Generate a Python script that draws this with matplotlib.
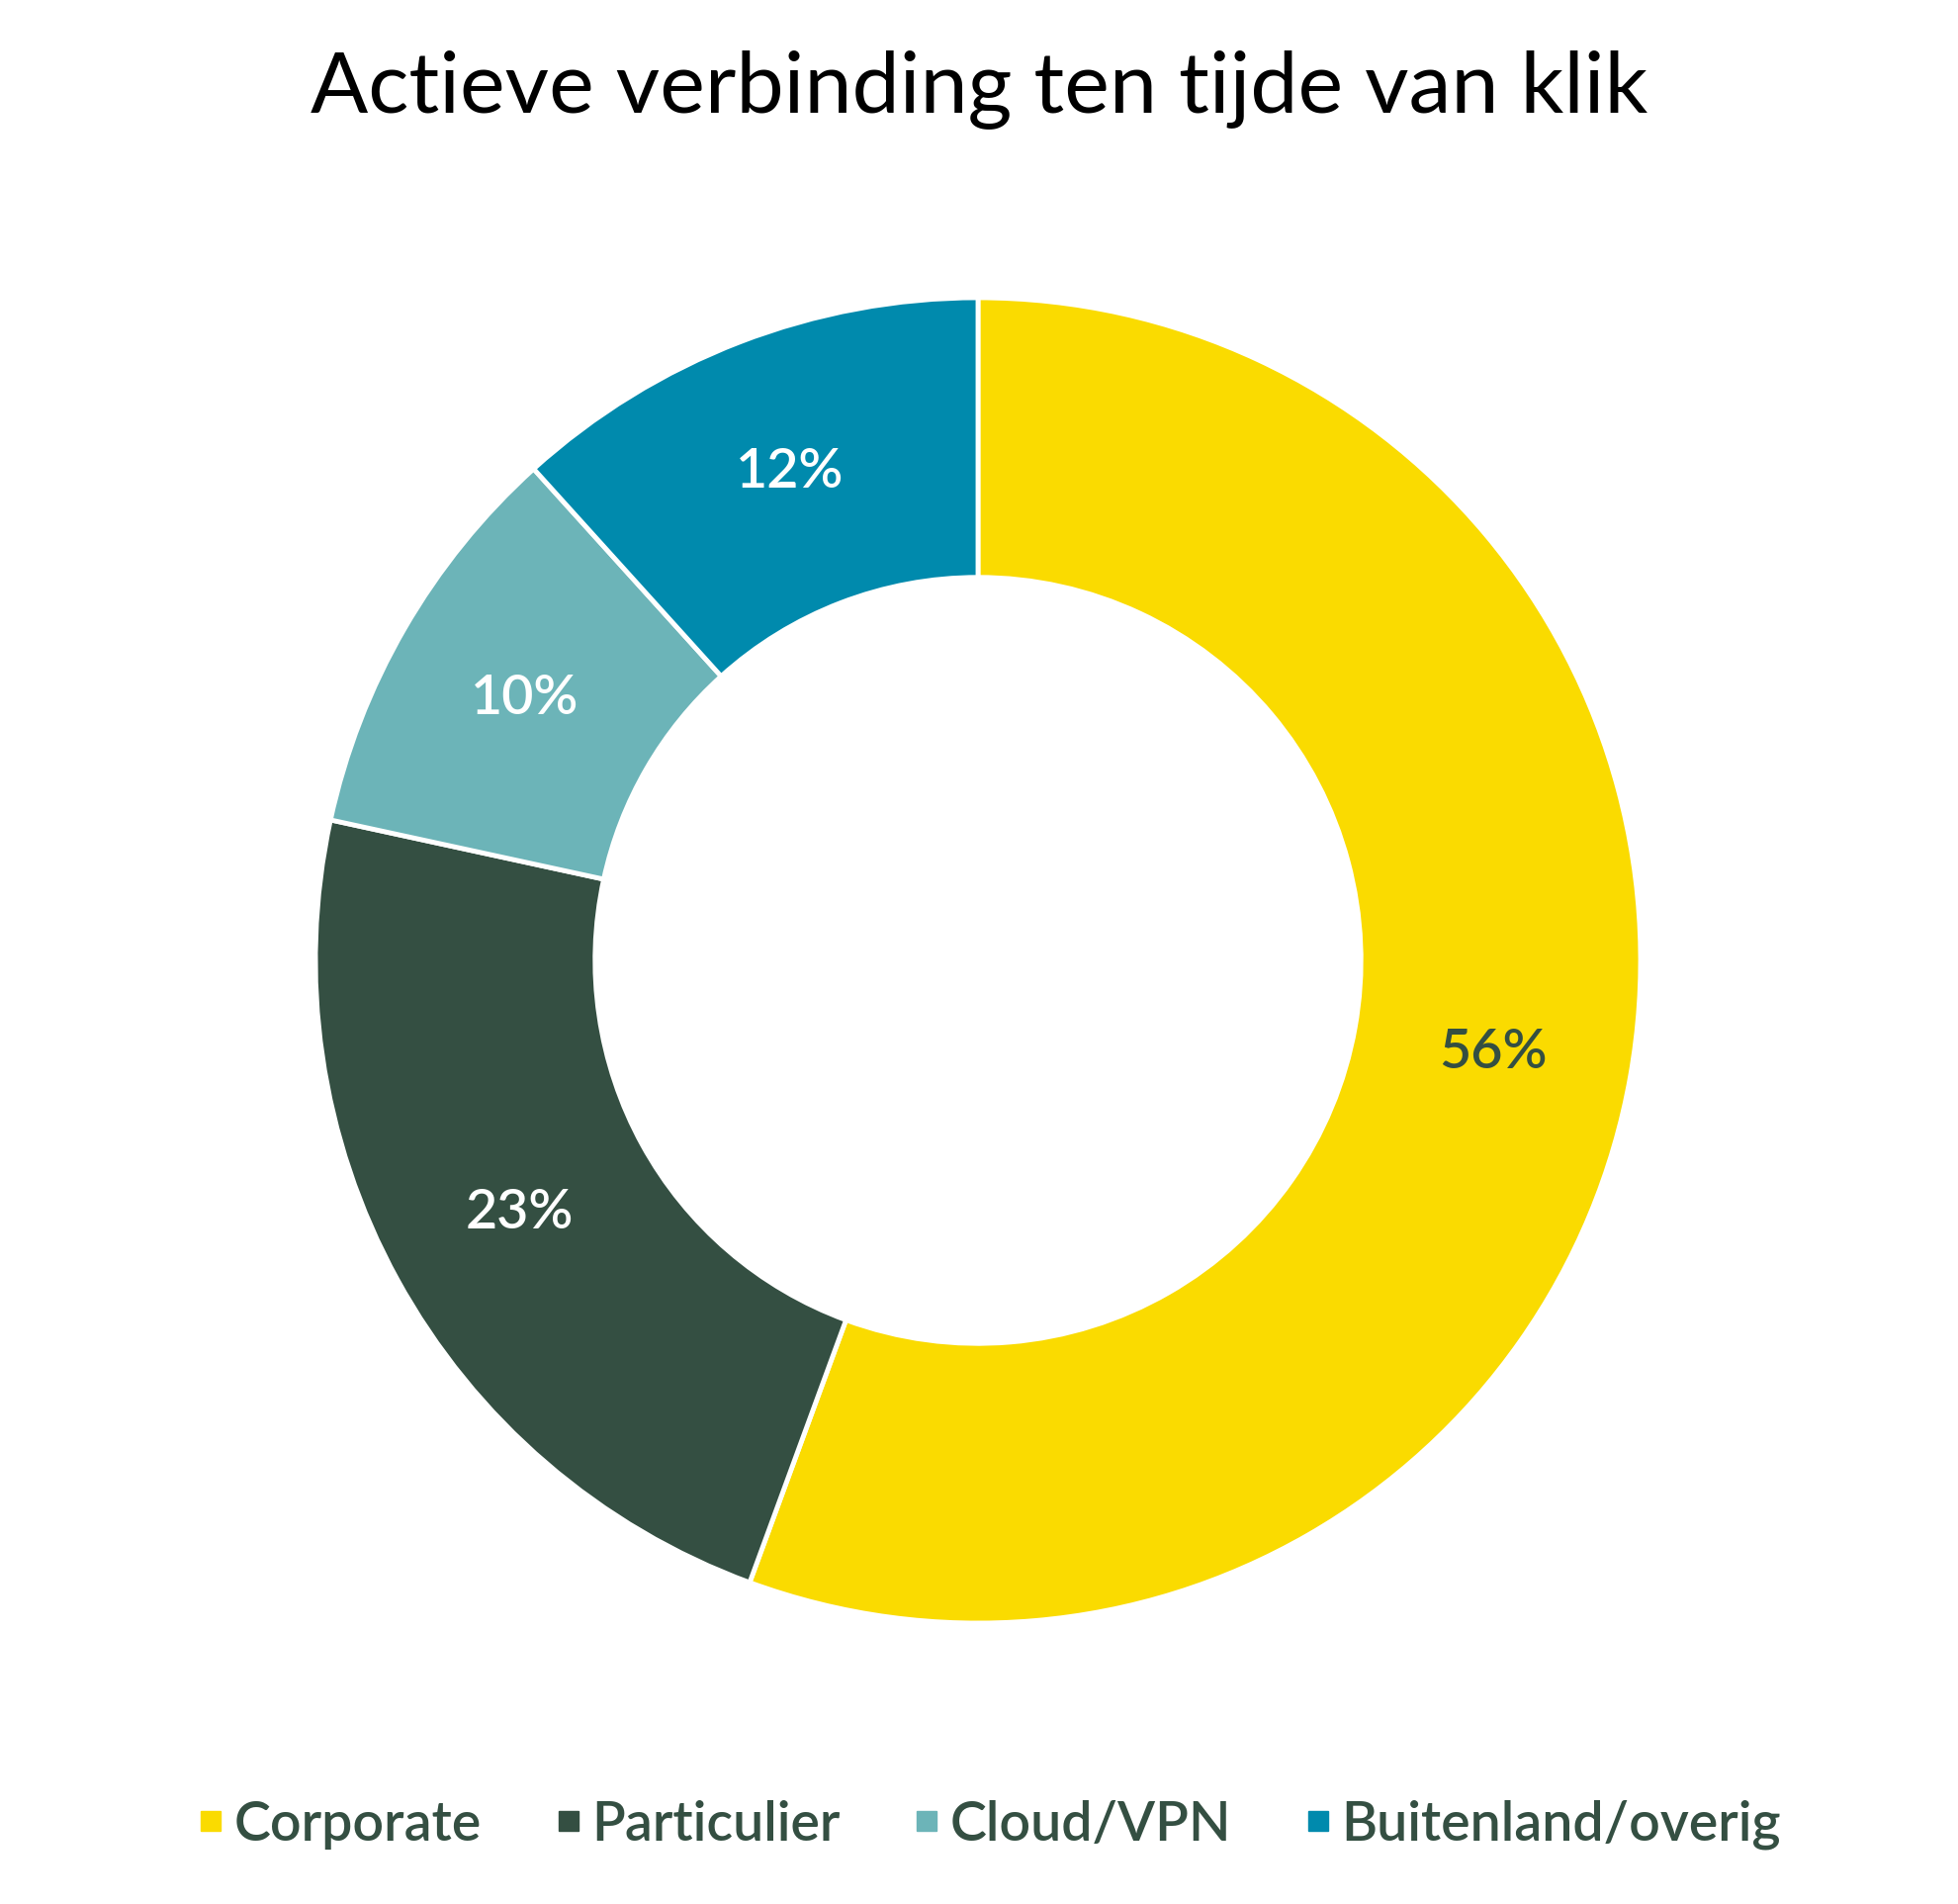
import matplotlib.pyplot as plt
from matplotlib.lines import Line2D

plt.rcParams['font.family'] = ['Lato', 'DejaVu Sans']

# data
labels = ['Corporate', 'Particulier', 'Cloud/VPN', 'Buitenland/overig']
values = [55.6, 22.8, 9.9, 11.7]
colors = ['#FADB00', '#344F42', '#6CB4B8', '#008AAD']
label_colors = ['#344F42', 'white', 'white', 'white']
text_dark = '#344F42'

fig = plt.figure(figsize=(19.8, 19.25), dpi=100)
ax = fig.add_axes([0, 0, 1, 1])

wedges, texts, autotexts = ax.pie(
    values, colors=colors, startangle=90, counterclock=False,
    radius=1.0, autopct='%.0f%%', pctdistance=0.79,
    wedgeprops=dict(width=0.422, edgecolor='white', linewidth=3.5),
    textprops=dict(fontsize=40, fontweight='semibold'))
for t, c in zip(autotexts, label_colors):
    t.set_color(c)

# center donut at (989, 971) px with outer radius 670 px
ax.set_xlim(-989 / 670, (1980 - 989) / 670)
ax.set_ylim(-954 / 670, (1925 - 954) / 670)
ax.set_aspect('auto')
ax.axis('off')

fig.text(0.5, 1 - 90 / 1925, 'Actieve verbinding ten tijde van klik',
         ha='center', va='center', fontsize=62, color='black')

handles = [Line2D([], [], marker='s', linestyle='', markersize=15,
                  markerfacecolor=c, markeredgecolor=c) for c in colors]
leg = fig.legend(handles, labels, loc='center', ncol=4,
                 bbox_to_anchor=(0.5055, 1 - 1845 / 1925), frameon=False,
                 fontsize=40, handlelength=0.45, handletextpad=0.2,
                 columnspacing=1.35, borderaxespad=0)
for t in leg.get_texts():
    t.set_color(text_dark)
    t.set_fontweight('semibold')

fig.savefig('out.png', dpi=100, facecolor='white')
